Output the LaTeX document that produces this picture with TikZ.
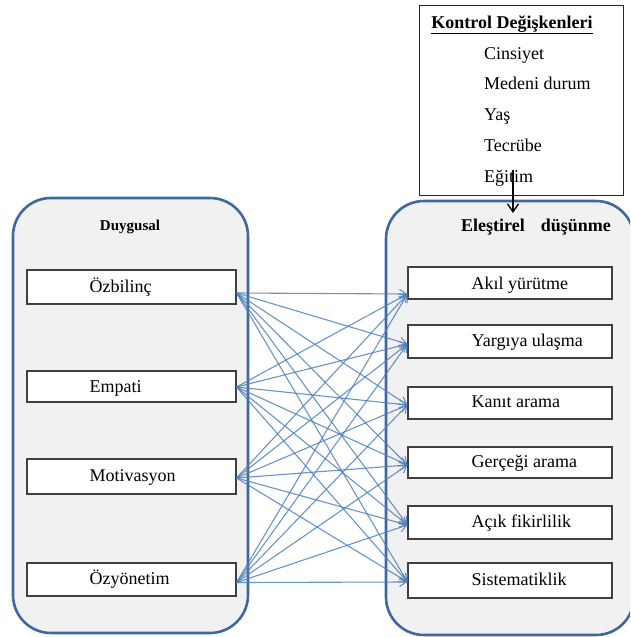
\documentclass[tikz,border=0pt]{standalone}
\usepackage{fontspec}
\setmainfont{Liberation Serif}
\usetikzlibrary{arrows.meta,calc}
\definecolor{frameblue}{RGB}{65,104,158}
\definecolor{panelgray}{RGB}{241,241,241}
\definecolor{linkblue}{RGB}{79,129,189}
\begin{document}
\begin{tikzpicture}[x=1pt,y=-1pt,
  container/.style={draw=frameblue, line width=2.6pt, fill=panelgray, rounded corners=38pt, inner sep=0pt},
  itembox/.style={draw=black!75, line width=1.1pt, fill=white, inner sep=0pt},
  itemtext/.style={anchor=base west, inner sep=0pt, font=\fontsize{18}{21}\selectfont},
  ctrltext/.style={anchor=base west, inner sep=0pt, font=\fontsize{18}{21}\selectfont},
  link/.style={draw=linkblue, line width=1.1pt, opacity=0.85, -{Straight Barb[length=7pt,width=9pt]}},
]
\useasboundingbox (0,0) rectangle (630,637);
\clip (0,0) rectangle (630,637);

% containers
\node[container, minimum width=235pt, minimum height=435pt] (lc) at (130.5,415.5) {};
\node[container, minimum width=248pt, minimum height=434pt] (rc) at (510,418) {};

% control box
\node[draw=black!85, line width=1pt, fill=white, minimum width=204pt, minimum height=190pt, inner sep=0pt] (ctrl) at (521,100) {};
\node[anchor=base, inner sep=0pt, font=\bfseries\fontsize{18}{21}\selectfont] (ctitle) at (512,28) {\underline{Kontrol Değişkenleri}};
\node[ctrltext] (c1) at (484,59.5) {Cinsiyet};
\node[ctrltext] (c2) at (484,89.5) {Medeni durum};
\node[ctrltext] (c3) at (484,120.5) {Yaş};
\node[ctrltext] (c4) at (484,151) {Tecrübe};
\node[ctrltext] (c5) at (484,182) {Eğitim};

% headings
\node[anchor=base, inner sep=0pt, font=\bfseries\fontsize{15}{18}\selectfont] (lh) at (130,230) {Duygusal};
\node[anchor=base west, inner sep=0pt, font=\bfseries\fontsize{18}{21}\selectfont] (rh) at (461,231.5) {Eleştirel\hspace{16pt}düşünme};

% left boxes
\node[itembox, minimum width=209pt, minimum height=34pt] (L1) at (131.5,287) {};
\node[itembox, minimum width=209pt, minimum height=31pt] (L2) at (131.5,386.5) {};
\node[itembox, minimum width=209pt, minimum height=35pt] (L3) at (131.5,476.5) {};
\node[itembox, minimum width=209pt, minimum height=33pt] (L4) at (131.5,579.5) {};
\node[itemtext] (lt1) at ($(L1.west)+(63,5)$) {Özbilinç};
\node[itemtext] (lt2) at ($(L2.west)+(63,6)$) {Empati};
\node[itemtext] (lt3) at ($(L3.west)+(63,4.5)$) {Motivasyon};
\node[itemtext] (lt4) at ($(L4.west)+(63,5)$) {Özyönetim};

% right boxes
\node[itembox, minimum width=204pt, minimum height=32pt] (R1) at (510,283) {};
\node[itembox, minimum width=204pt, minimum height=33pt] (R2) at (510,341.5) {};
\node[itembox, minimum width=204pt, minimum height=32pt] (R3) at (510,403) {};
\node[itembox, minimum width=204pt, minimum height=31pt] (R4) at (510,462.5) {};
\node[itembox, minimum width=204pt, minimum height=33pt] (R5) at (510,522.5) {};
\node[itembox, minimum width=204pt, minimum height=35pt] (R6) at (510,580.5) {};
\node[itemtext] (rt1) at ($(R1.west)+(64,6)$) {Akıl yürütme};
\node[itemtext] (rt2) at ($(R2.west)+(64,4.5)$) {Yargıya ulaşma};
\node[itemtext] (rt3) at ($(R3.west)+(64,4)$) {Kanıt arama};
\node[itemtext] (rt4) at ($(R4.west)+(64,5)$) {Gerçeği arama};
\node[itemtext] (rt5) at ($(R5.west)+(64,5)$) {Açık fikirlilik};
\node[itemtext] (rt6) at ($(R6.west)+(64,5)$) {Sistematiklik};

% connector ends
\coordinate (s1) at ($(L1.east)+(0,6)$);
\coordinate (s2) at ($(L2.east)+(0,0.5)$);
\coordinate (s3) at ($(L3.east)+(0,1.5)$);
\coordinate (s4) at ($(L4.east)+(0,3)$);
\coordinate (e1) at ($(R1.west)+(0,11)$);
\coordinate (e2) at ($(R2.west)+(0,2.5)$);
\coordinate (e3) at ($(R3.west)+(0,2)$);
\coordinate (e4) at ($(R4.west)+(0,2.5)$);
\coordinate (e5) at ($(R5.west)+(0,2.5)$);
\coordinate (e6) at ($(R6.west)+(0,1.5)$);

\foreach \i in {1,...,4}{
  \foreach \j in {1,...,6}{
    \draw[link] (s\i) -- (e\j);
  }
}

% control arrow
\coordinate (ca) at ($(c5.base west)+(29,-12)$);
\coordinate (cb) at (513,213);
\draw[black, line width=1.3pt, -{Straight Barb[length=8pt,width=11pt]}] (ca) -- (cb);
\end{tikzpicture}
\end{document}
